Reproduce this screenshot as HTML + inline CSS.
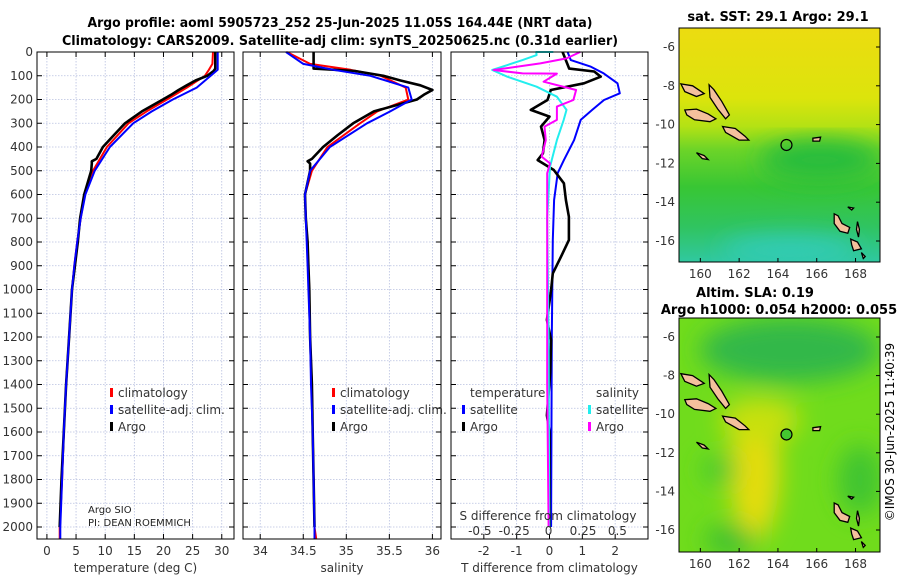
<!DOCTYPE html>
<html><head><meta charset="utf-8"><style>
html,body{margin:0;padding:0;background:#fff;}
svg{display:block;font-family:"DejaVu Sans","Liberation Sans",sans-serif;}
</style></head><body>
<svg id="chart" width="900" height="580" viewBox="0 0 900 580" xmlns="http://www.w3.org/2000/svg">
<defs>
<linearGradient id="sstGrad" x1="0" y1="0" x2="0" y2="1">
<stop offset="0" stop-color="#ecdc10"/><stop offset="0.3" stop-color="#dce40c"/><stop offset="0.42" stop-color="#b4e214"/>
<stop offset="0.52" stop-color="#6cd428"/><stop offset="0.68" stop-color="#38c634"/><stop offset="0.85" stop-color="#30c460"/><stop offset="1" stop-color="#30c8a0"/>
</linearGradient>
<filter id="blur"><feGaussianBlur stdDeviation="12"/></filter>
<clipPath id="clipTop"><rect x="679" y="28" width="201" height="234"/></clipPath>
<clipPath id="clipBot"><rect x="679" y="318" width="201" height="234"/></clipPath>
</defs>
<text x="340" y="27" text-anchor="middle" font-weight="bold" font-size="13" textLength="505" lengthAdjust="spacingAndGlyphs">Argo profile: aoml 5905723_252 25-Jun-2025 11.05S 164.44E (NRT data)</text>
<text x="340" y="45" text-anchor="middle" font-weight="bold" font-size="13" textLength="556" lengthAdjust="spacingAndGlyphs">Climatology: CARS2009. Satellite-adj clim: synTS_20250625.nc (0.31d earlier)</text>
<g id="plots"></g>
<g id="maps"></g>
<text transform="translate(894,432) rotate(-90)" text-anchor="middle" font-size="12">©IMOS 30-Jun-2025 11:40:39</text>
</svg>
<script>
// ---------- DATA ----------
const depthTicks = [0,100,200,300,400,500,600,700,800,900,1000,1100,1200,1300,1400,1500,1600,1700,1800,1900,2000];
const tempTicks = [0,5,10,15,20,25,30];
const salTicks = [34,34.5,35,35.5,36];
const tdiffTicks = [-2,-1,0,1,2];
const sdiffTicks = [-0.5,-0.25,0,0.25,0.5];
const sdiffTickLabels = ["-0.5","-0.25","0","0.25","0.5"];

const climDepth = [0,50,75,100,150,200,250,300,400,500,600,700,800,900,1000,1200,1400,1600,1800,2000,2050];
const climTemp  = [28.5,28.4,27.8,27.1,24,20.6,17.1,14,10.3,7.9,6.5,5.8,5.2,4.7,4.3,3.8,3.3,2.9,2.6,2.2,2.2];
const satTemp   = [29.3,29.3,29.3,28.1,25.7,21.6,18,14.8,10.8,8.2,6.6,5.8,5.2,4.7,4.3,3.8,3.3,2.9,2.6,2.3,2.3];
const climSal   = [34.31,34.58,35.05,35.40,35.69,35.72,35.36,35.16,34.78,34.6,34.52,34.53,34.55,34.56,34.57,34.58,34.6,34.61,34.62,34.63,34.65];
const satSal    = [34.30,34.5,34.85,35.28,35.72,35.76,35.51,35.24,34.81,34.58,34.52,34.53,34.54,34.55,34.56,34.58,34.59,34.61,34.62,34.63,34.63];

const argoDepth = [0,70,80,100,120,140,160,180,200,250,300,350,400,450,460,470,500,600,700,800,900,1000,1200,1400,1600,1800,2000];
const argoTemp  = [28.9,28.9,28.6,27.5,25.5,24,22.6,21.3,19.9,16.3,13.4,11.5,9.6,8.5,7.7,7.7,7.6,6.4,5.7,5.3,4.8,4.3,3.8,3.3,2.9,2.5,2.2];
const argoSal   = [34.62,34.62,35.10,35.43,35.63,35.86,36.0,35.9,35.82,35.32,35.08,34.90,34.73,34.6,34.55,34.58,34.58,34.52,34.53,34.55,34.56,34.57,34.58,34.6,34.61,34.62,34.63];

const satTdDepth = [0,34,62,90,132,174,202,244,286,371,455,510,623,792,1200,2000];
const satTdiff   = [0.55,0.65,1.26,1.65,2.07,2.14,1.66,1.3,0.95,0.75,0.44,0.25,0.14,0.1,0.07,0.05];
const argoTdDepth = [0,70,82,104,132,160,202,244,272,314,371,427,455,497,553,623,694,792,862,932,1002,1128,1213,1350,1530,1600,2000];
const argoTdiff   = [0.4,0.6,1.36,1.56,1.05,0.04,-0.06,-0.57,0.0,-0.26,-0.15,-0.2,-0.36,0.13,0.44,0.5,0.59,0.59,0.35,0.1,0.05,-0.08,0.05,0.02,-0.08,0.0,0.0];
const satSdDepth = [0,0,13,34,76,104,146,188,244,286,371,483,700,1200,2000];
const satSdiff   = [0.034,-0.09,-0.087,-0.19,-0.41,-0.30,-0.087,0.06,0.13,0.11,0.06,0.01,-0.01,0.0,0.005];
const argoSdDepth = [0,27,48,76,90,91,125,160,202,230,286,314,371,441,469,510,800,1400,2000];
const argoSdiff   = [0.23,0.13,-0.06,-0.40,-0.19,0.06,-0.036,0.2,0.18,0.06,0.06,-0.03,-0.02,-0.05,0.01,-0.01,-0.01,-0.01,0.0];

const mapLatTicks = [-6,-8,-10,-12,-14,-16];
const mapLonTicks = [160,162,164,166,168];
const argoLon = 164.44, argoLat = -11.05;
const islands = [
 [[159.2,-9.25],[159.8,-9.2],[160.4,-9.45],[160.8,-9.7],[160.5,-9.85],[159.7,-9.75],[159.3,-9.5]],
 [[160.45,-7.95],[160.7,-8.2],[161.1,-8.8],[161.5,-9.5],[161.3,-9.7],[160.9,-9.2],[160.5,-8.6]],
 [[161.15,-10.1],[161.8,-10.2],[162.3,-10.6],[162.5,-10.8],[162.0,-10.8],[161.3,-10.4]],
 [[159.0,-7.9],[159.6,-8.0],[160.2,-8.4],[159.8,-8.55],[159.2,-8.3]],
 [[159.8,-11.45],[160.2,-11.6],[160.4,-11.8],[160.1,-11.75]],
 [[166.9,-14.6],[167.1,-14.7],[167.3,-15.1],[167.7,-15.3],[167.6,-15.6],[167.2,-15.5],[166.9,-15.1]],
 [[167.75,-15.9],[168.1,-16.05],[168.3,-16.4],[167.9,-16.5],[167.8,-16.2]],
 [[168.1,-15.0],[168.2,-15.4],[168.15,-15.8],[168.05,-15.4]],
 [[165.8,-10.7],[166.2,-10.65],[166.15,-10.85],[165.8,-10.85]],
 [[168.3,-16.6],[168.5,-16.8],[168.4,-16.9]],
 [[167.6,-14.25],[167.9,-14.3],[167.8,-14.4]]
];

// ---------- HELPERS ----------
const NS='http://www.w3.org/2000/svg';
function mk(tag, attrs, parent){const e=document.createElementNS(NS,tag);for(const k in attrs)e.setAttribute(k,attrs[k]);parent.appendChild(e);return e;}
const plots=document.getElementById('plots');
const maps=document.getElementById('maps');
const yTop=52, yPer=0.2375, yBot=539;
function yD(d){return yTop+d*yPer;}

const panels=[
 {x0:37,x1:234,v0:-1.7,v1:32.1,ticks:tempTicks,labels:tempTicks.map(String),title:'temperature (deg C)',name:'temperature-panel'},
 {x0:243,x1:441,v0:33.8,v1:36.1,ticks:salTicks,labels:['34','34.5','35','35.5','36'],title:'salinity',name:'salinity-panel'},
 {x0:451,x1:648,v0:-3.0,v1:3.0,ticks:tdiffTicks,labels:tdiffTicks.map(String),title:'T difference from climatology',name:'difference-panel'}
];
function xScale(p){return v=>p.x0+(v-p.v0)/(p.v1-p.v0)*(p.x1-p.x0);}
const sx=[xScale(panels[0]),xScale(panels[1]),xScale(panels[2])];
const sS=v=>548.6+v*137.6;

panels.forEach((p,i)=>{
 const g=mk('g',{},plots);
 
 
 const fx=sx[i];
 p.ticks.forEach((t,j)=>{
  const x=fx(t);
  const gl=mk('line',{x1:x,x2:x,y1:yTop,y2:yBot,stroke:'#b8c0e0','stroke-width':0.8,'stroke-dasharray':'1.5,1.5'},g);
  
  
  mk('line',{x1:x,x2:x,y1:yBot,y2:yBot-5,stroke:'#000'},g);
  mk('line',{x1:x,x2:x,y1:yTop,y2:yTop+5,stroke:'#000'},g);
  const tl=mk('text',{x:x,y:555,'text-anchor':'middle','font-size':12,fill:'#333'},g);
  tl.textContent=p.labels[j];
  
  
 });
 depthTicks.forEach(d=>{
  const y=yD(d);
  const gl=mk('line',{x1:p.x0,x2:p.x1,y1:y,y2:y,stroke:'#b8c0e0','stroke-width':0.8,'stroke-dasharray':'1.5,1.5'},g);
  
  
  mk('line',{x1:p.x0,x2:p.x0+5,y1:y,y2:y,stroke:'#000'},g);
  mk('line',{x1:p.x1,x2:p.x1-5,y1:y,y2:y,stroke:'#000'},g);
  if(i===0){
   const tl=mk('text',{x:33,y:y+4,'text-anchor':'end','font-size':12,fill:'#333'},g);
   tl.textContent=String(d);
   
   
  }
 });
 const at=mk('text',{x:(p.x0+p.x1)/2,y:572,'text-anchor':'middle','font-size':12,fill:'#333'},g);
 at.textContent=p.title;
 
 
 p.g=g;
});

function line(g,depths,vals,fx,color,w,name){
 const pts=depths.map((d,k)=>fx(vals[k]).toFixed(1)+','+yD(d).toFixed(1)).join(' ');
 const pl=mk('polyline',{points:pts,fill:'none',stroke:color,'stroke-width':w,'stroke-linejoin':'round'},g);
 
 
}
const g0=panels[0].g,g1=panels[1].g,g2=panels[2].g;
line(g0,climDepth,climTemp,sx[0],'#ff0000',2,'climatology-temp-line');
line(g0,argoDepth,argoTemp,sx[0],'#000',2.6,'argo-temp-line');
line(g0,climDepth,satTemp,sx[0],'#0000ff',2,'satellite-temp-line');
line(g1,climDepth,climSal,sx[1],'#ff0000',2,'climatology-salinity-line');
line(g1,argoDepth,argoSal,sx[1],'#000',2.6,'argo-salinity-line');
line(g1,climDepth,satSal,sx[1],'#0000ff',2,'satellite-salinity-line');
line(g2,satTdDepth,satTdiff,sx[2],'#0000ff',2,'satellite-tdiff-line');
line(g2,argoTdDepth,argoTdiff,sx[2],'#000',2.6,'argo-tdiff-line');
line(g2,satSdDepth,satSdiff,sS,'#22eeee',2,'satellite-sdiff-line');
line(g2,argoSdDepth,argoSdiff,sS,'#ff00ff',2,'argo-sdiff-line');

panels.forEach(p=>{
 const r=mk('rect',{x:p.x0,y:yTop,width:p.x1-p.x0,height:yBot-yTop,fill:'none',stroke:'#000','stroke-width':1},p.g);
 
 
});

function legItem(g,x,y,color,label,name){
 mk('rect',{x:x,y:y-9,width:3,height:9,fill:color},g);
 const t=mk('text',{x:x+8,y:y,'font-size':12,fill:'#333'},g);
 t.textContent=label;
 
 
}
[[g0,110],[g1,332]].forEach(([g,x])=>{
 legItem(g,x,397,'#ff0000','climatology','legend-climatology');
 legItem(g,x,414,'#0000ff','satellite-adj. clim.','legend-satellite-adj');
 legItem(g,x,431,'#000','Argo','legend-argo');
});
const lt=mk('text',{x:470,y:397,'font-size':12,fill:'#333'},g2);
lt.textContent='temperature';


const ls=mk('text',{x:596,y:397,'font-size':12,fill:'#333'},g2);
ls.textContent='salinity';


legItem(g2,462,414,'#0000ff','satellite','legend-t-satellite');
legItem(g2,462,431,'#000','Argo','legend-t-argo');
legItem(g2,588,414,'#22eeee','satellite','legend-s-satellite');
legItem(g2,588,431,'#ff00ff','Argo','legend-s-argo');

const a1=mk('text',{x:88,y:513,'font-size':10,fill:'#222'},g0);
a1.textContent='Argo SIO';


const a2=mk('text',{x:88,y:526,'font-size':10,fill:'#222'},g0);
a2.textContent='PI: DEAN ROEMMICH';



const st=mk('text',{x:548,y:520,'text-anchor':'middle','font-size':12,fill:'#333'},g2);
st.textContent='S difference from climatology';


sdiffTicks.forEach((v,j)=>{
 const t=mk('text',{x:sS(v),y:535,'text-anchor':'middle','font-size':12,fill:'#333'},g2);
 t.textContent=sdiffTickLabels[j];
 
 
});

// ---------- MAPS ----------
const lonX=l=>679+(l-158.9)*19.4;
function buildMap(y0,latY,clipId,name,bgFn,markerFill){
 const g=mk('g',{},maps);
 
 
 const body=mk('g',{'clip-path':'url(#'+clipId+')'},g);
 bgFn(body);
 islands.forEach(poly=>{
  const pts=poly.map(p=>lonX(p[0]).toFixed(1)+','+latY(p[1]).toFixed(1)).join(' ');
  const pg=mk('polygon',{points:pts,fill:'#f4c09c',stroke:'#000','stroke-width':1.3},body);
  
  
 });
 const c=mk('circle',{cx:lonX(argoLon),cy:latY(argoLat),r:5.5,fill:markerFill,stroke:'#000','stroke-width':1.2},body);
 
 
 const fr=mk('rect',{x:679,y:y0,width:201,height:234,fill:'none',stroke:'#000'},g);
 
 
 mapLatTicks.forEach(l=>{
  const y=latY(l);
  mk('line',{x1:880,x2:876,y1:y,y2:y,stroke:'#000'},g);
  const t=mk('text',{x:675,y:y+4,'text-anchor':'end','font-size':12,fill:'#333'},g);
  t.textContent=String(l);
  
  
 });
 mapLonTicks.forEach(l=>{
  const x=lonX(l);
  mk('line',{x1:x,x2:x,y1:y0+234,y2:y0+230,stroke:'#000'},g);
  const t=mk('text',{x:x,y:y0+250,'text-anchor':'middle','font-size':12,fill:'#333'},g);
  t.textContent=String(l);
  
  
 });
 return g;
}
const latTop=l=>47+(-6-l)*19.4;
const latBot=l=>337+(-6-l)*19.3;
buildMap(28,latTop,'clipTop','sst-map',b=>{
 mk('rect',{x:679,y:28,width:201,height:234,fill:'url(#sstGrad)'},b);
 const f=mk('g',{filter:'url(#blur)'},b);
 mk('ellipse',{cx:790,cy:250,rx:70,ry:14,fill:'#30ccb8'},f);
 mk('ellipse',{cx:820,cy:160,rx:60,ry:20,fill:'#28bc3c'},f);
},'none');
buildMap(318,latBot,'clipBot','sla-map',b=>{
 mk('rect',{x:679,y:318,width:201,height:234,fill:'#70dc1c'},b);
 const f=mk('g',{filter:'url(#blur)'},b);
 mk('ellipse',{cx:790,cy:350,rx:90,ry:32,fill:'#30b848'},f);
 mk('ellipse',{cx:755,cy:470,rx:25,ry:70,fill:'#e4dc08'},f);
 mk('ellipse',{cx:760,cy:420,rx:40,ry:22,fill:'#c8e010'},f);
 mk('ellipse',{cx:730,cy:540,rx:25,ry:15,fill:'#3cc030'},f);
 mk('ellipse',{cx:860,cy:480,rx:22,ry:35,fill:'#40c430'},f);
 mk('ellipse',{cx:720,cy:470,rx:18,ry:14,fill:'#44c830'},f);
},'#44c830');

function mapTitle(txt,x,y,name){
 const t=mk('text',{x:x,y:y,'text-anchor':'middle','font-size':13,'font-weight':'bold'},maps);
 t.textContent=txt;
 
 
}
mapTitle('sat. SST: 29.1 Argo: 29.1',778,21,'sst-map-title');
mapTitle('Altim. SLA: 0.19',755,297,'sla-map-title');
mapTitle('Argo h1000: 0.054 h2000: 0.055',779,314,'argo-height-title');
</script>
</body></html>
